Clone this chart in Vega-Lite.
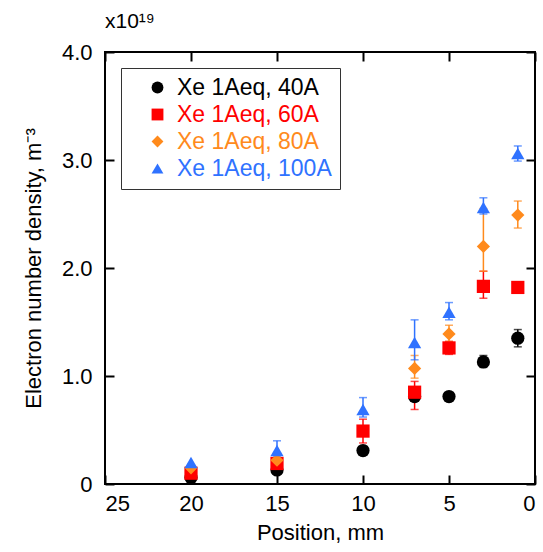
{
  "$schema": "https://vega.github.io/schema/vega-lite/v6.json",
  "width": 430,
  "height": 432,
  "autosize": {"type": "none"},
  "padding": {"left": 105, "top": 52, "right": 8, "bottom": 68},
  "background": "white",
  "config": {
    "font": "Liberation Sans",
    "view": {"stroke": "black", "strokeWidth": 2},
    "axis": {"domain": false, "grid": false, "ticks": true, "tickColor": "black", "tickWidth": 2, "tickSize": -9, "labelColor": "black", "labelFontSize": 22, "titleFontSize": 22, "titleFontWeight": "normal", "titleColor": "black", "labelFont": "Liberation Sans", "titleFont": "Liberation Sans"},
    "legend": {"title": null, "orient": "none", "legendX": 16, "legendY": 16, "strokeColor": "#333333", "fillColor": "white", "padding": 8, "labelFontSize": 23, "labelFont": "Liberation Sans", "symbolSize": 140, "rowPadding": 3, "symbolOffset": 17, "labelOffset": 8, "symbolStrokeWidth": 0}
  },
  "title": {"text": "x10¹⁹", "anchor": "start", "frame": "group", "fontSize": 21, "fontWeight": "normal", "color": "black", "offset": 9, "font": "Liberation Sans"},
  "data": {"values": [
    {"series": "Xe 1Aeq, 40A", "pos": 20, "n": 0.06},
    {"series": "Xe 1Aeq, 40A", "pos": 15, "n": 0.13},
    {"series": "Xe 1Aeq, 40A", "pos": 10, "n": 0.31},
    {"series": "Xe 1Aeq, 40A", "pos": 7, "n": 0.81},
    {"series": "Xe 1Aeq, 40A", "pos": 5, "n": 0.81},
    {"series": "Xe 1Aeq, 40A", "pos": 3, "n": 1.13, "lo": 1.08, "hi": 1.19},
    {"series": "Xe 1Aeq, 40A", "pos": 1, "n": 1.35, "lo": 1.27, "hi": 1.43},
    {"series": "Xe 1Aeq, 60A", "pos": 20, "n": 0.10},
    {"series": "Xe 1Aeq, 60A", "pos": 15, "n": 0.19},
    {"series": "Xe 1Aeq, 60A", "pos": 10, "n": 0.49, "lo": 0.38, "hi": 0.60},
    {"series": "Xe 1Aeq, 60A", "pos": 7, "n": 0.85, "lo": 0.69, "hi": 0.95},
    {"series": "Xe 1Aeq, 60A", "pos": 5, "n": 1.26, "lo": 1.20, "hi": 1.32},
    {"series": "Xe 1Aeq, 60A", "pos": 3, "n": 1.83, "lo": 1.72, "hi": 1.97},
    {"series": "Xe 1Aeq, 60A", "pos": 1, "n": 1.82, "lo": 1.79, "hi": 1.86},
    {"series": "Xe 1Aeq, 80A", "pos": 20, "n": 0.15},
    {"series": "Xe 1Aeq, 80A", "pos": 15, "n": 0.22},
    {"series": "Xe 1Aeq, 80A", "pos": 7, "n": 1.07, "lo": 0.98, "hi": 1.19},
    {"series": "Xe 1Aeq, 80A", "pos": 5, "n": 1.39, "lo": 1.32, "hi": 1.47},
    {"series": "Xe 1Aeq, 80A", "pos": 3, "n": 2.20, "lo": 1.97, "hi": 2.55},
    {"series": "Xe 1Aeq, 80A", "pos": 1, "n": 2.49, "lo": 2.37, "hi": 2.62},
    {"series": "Xe 1Aeq, 100A", "pos": 20, "n": 0.20},
    {"series": "Xe 1Aeq, 100A", "pos": 15, "n": 0.31, "lo": 0.25, "hi": 0.40},
    {"series": "Xe 1Aeq, 100A", "pos": 10, "n": 0.69, "lo": 0.62, "hi": 0.80},
    {"series": "Xe 1Aeq, 100A", "pos": 7, "n": 1.31, "lo": 1.15, "hi": 1.52},
    {"series": "Xe 1Aeq, 100A", "pos": 5, "n": 1.59, "lo": 1.52, "hi": 1.68},
    {"series": "Xe 1Aeq, 100A", "pos": 3, "n": 2.56, "lo": 2.50, "hi": 2.65},
    {"series": "Xe 1Aeq, 100A", "pos": 1, "n": 3.06, "lo": 2.99, "hi": 3.13}
  ]},
  "layer": [
    {
      "transform": [{"filter": "isValid(datum.lo) && datum.series == 'Xe 1Aeq, 40A'"}],
      "mark": {"type": "errorbar", "ticks": {"size": 8}, "thickness": 1.5, "color": "#000000"},
      "encoding": {"x": {"field": "pos", "type": "quantitative", "scale": {"domain": [25, 0], "nice": false}, "axis": null}, "y": {"field": "lo", "type": "quantitative", "scale": {"domain": [0, 4], "nice": false}, "axis": null}, "y2": {"field": "hi"}}
    },
    {
      "transform": [{"filter": "isValid(datum.lo) && datum.series == 'Xe 1Aeq, 60A'"}],
      "mark": {"type": "errorbar", "ticks": {"size": 8}, "thickness": 1.5, "color": "#ff0000"},
      "encoding": {"x": {"field": "pos", "type": "quantitative", "scale": {"domain": [25, 0], "nice": false}, "axis": null}, "y": {"field": "lo", "type": "quantitative", "scale": {"domain": [0, 4], "nice": false}, "axis": null}, "y2": {"field": "hi"}}
    },
    {
      "transform": [{"filter": "isValid(datum.lo) && datum.series == 'Xe 1Aeq, 80A'"}],
      "mark": {"type": "errorbar", "ticks": {"size": 8}, "thickness": 1.5, "color": "#ff8a1c"},
      "encoding": {"x": {"field": "pos", "type": "quantitative", "scale": {"domain": [25, 0], "nice": false}, "axis": null}, "y": {"field": "lo", "type": "quantitative", "scale": {"domain": [0, 4], "nice": false}, "axis": null}, "y2": {"field": "hi"}}
    },
    {
      "transform": [{"filter": "isValid(datum.lo) && datum.series == 'Xe 1Aeq, 100A'"}],
      "mark": {"type": "errorbar", "ticks": {"size": 8}, "thickness": 1.5, "color": "#2f72ff"},
      "encoding": {"x": {"field": "pos", "type": "quantitative", "scale": {"domain": [25, 0], "nice": false}, "axis": null}, "y": {"field": "lo", "type": "quantitative", "scale": {"domain": [0, 4], "nice": false}, "axis": null}, "y2": {"field": "hi"}}
    },
    {
      "mark": {"type": "point", "filled": true, "opacity": 1, "size": 175},
      "encoding": {
        "x": {"field": "pos", "type": "quantitative", "scale": {"domain": [25, 0], "nice": false}, "axis": {"orient": "bottom", "title": "Position, mm", "titlePadding": 8, "labelPadding": 18, "values": [0, 5, 10, 15, 20, 25], "format": "d"}},
        "y": {"field": "n", "type": "quantitative", "scale": {"domain": [0, 4], "nice": false}, "axis": {"orient": "left", "title": "Electron number density, m⁻³", "titlePadding": 16, "labelPadding": 22, "values": [0, 1, 2, 3, 4], "labelExpr": "datum.value == 0 ? '0' : format(datum.value, '.1f')"}},
        "color": {"field": "series", "type": "nominal", "sort": ["Xe 1Aeq, 40A", "Xe 1Aeq, 60A", "Xe 1Aeq, 80A", "Xe 1Aeq, 100A"], "scale": {"domain": ["Xe 1Aeq, 40A", "Xe 1Aeq, 60A", "Xe 1Aeq, 80A", "Xe 1Aeq, 100A"], "range": ["#000000", "#ff0000", "#ff8a1c", "#2f72ff"]},
          "legend": {"labelColor": {"expr": "scale('color', datum.value)"}}},
        "shape": {"field": "series", "type": "nominal", "sort": ["Xe 1Aeq, 40A", "Xe 1Aeq, 60A", "Xe 1Aeq, 80A", "Xe 1Aeq, 100A"], "scale": {"domain": ["Xe 1Aeq, 40A", "Xe 1Aeq, 60A", "Xe 1Aeq, 80A", "Xe 1Aeq, 100A"], "range": ["circle", "square", "diamond", "triangle-up"]},
          "legend": {"labelColor": {"expr": "scale('color', datum.value)"}}}
      }
    },
    {
      "mark": {"type": "point", "opacity": 0},
      "encoding": {
        "x": {"field": "pos", "type": "quantitative", "scale": {"domain": [25, 0], "nice": false}, "axis": {"orient": "top", "labels": false, "title": null, "values": [0, 5, 10, 15, 20, 25]}},
        "y": {"field": "n", "type": "quantitative", "scale": {"domain": [0, 4], "nice": false}, "axis": {"orient": "right", "labels": false, "title": null, "values": [0, 1, 2, 3, 4]}}
      }
    }
  ],
  "resolve": {"axis": {"x": "independent", "y": "independent"}}
}
